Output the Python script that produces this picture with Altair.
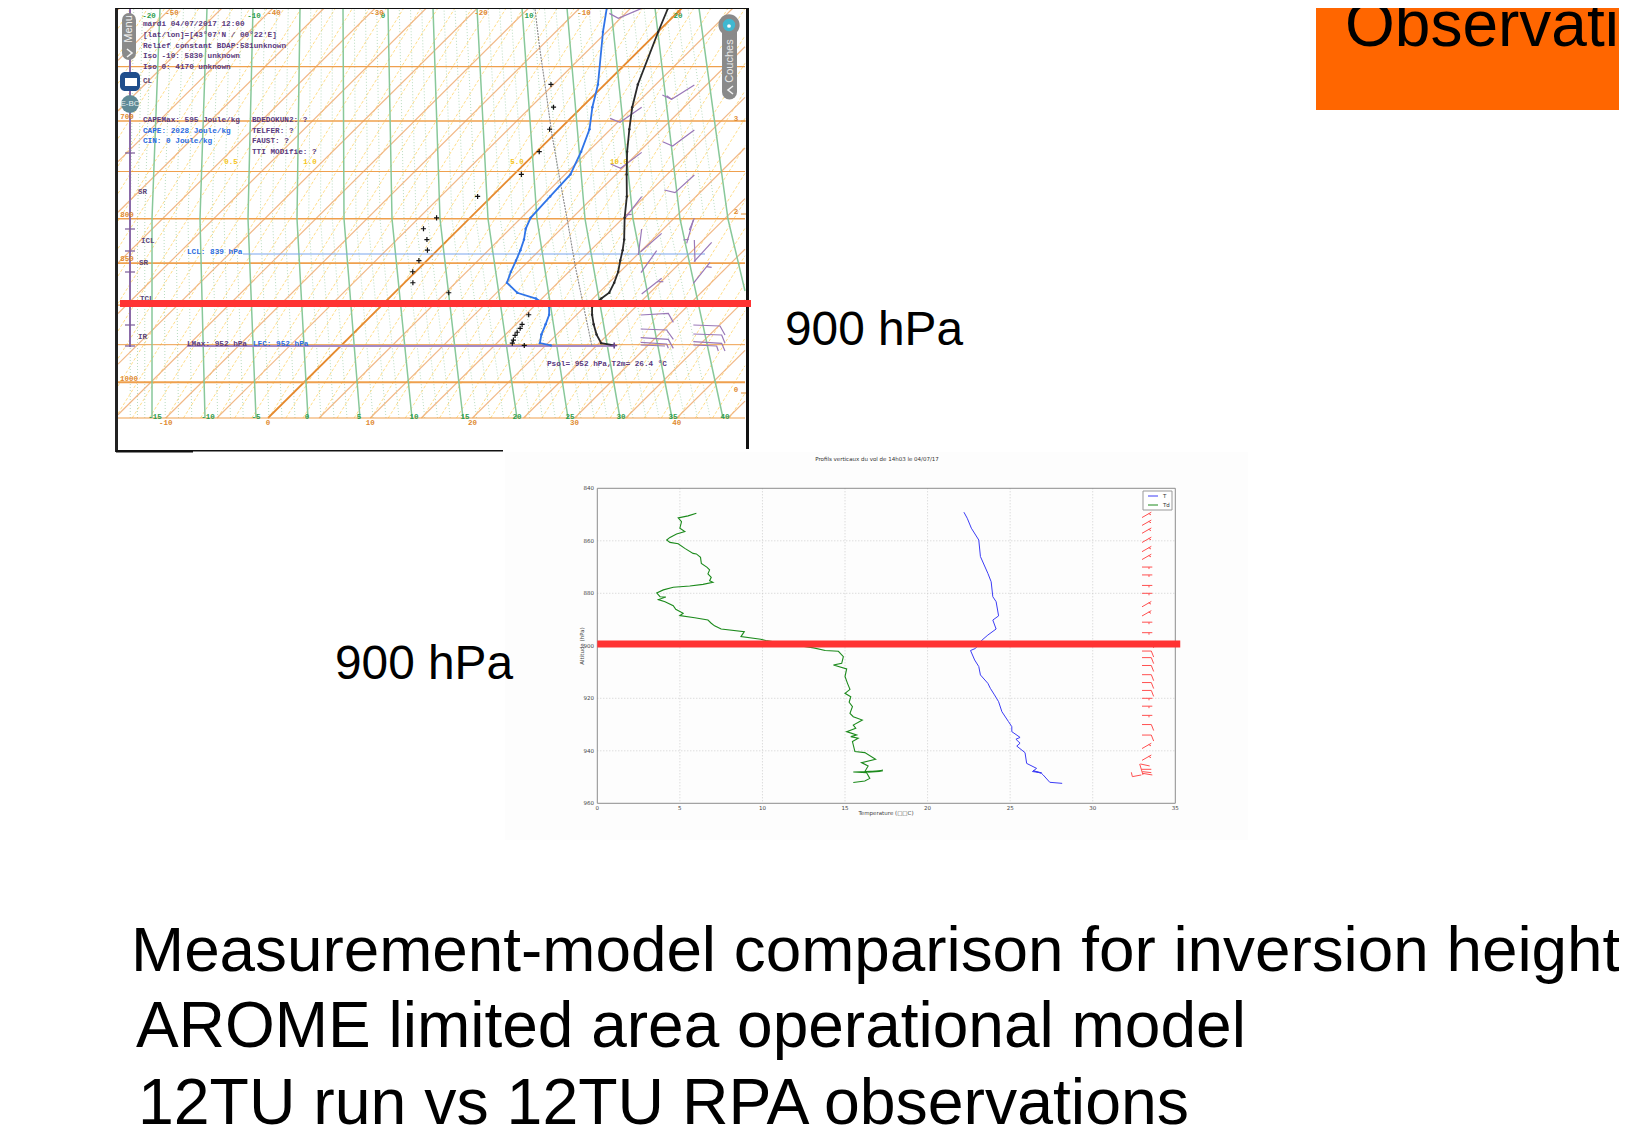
import math
import altair as alt
import pandas as pd

# ---------- lower panel: aircraft profile ----------
low_td_t = [6.0,5.5,4.9,5.1,5.0,5.3,4.8,4.4,4.2,4.4,4.9,5.3,5.8,6.0,6.25,6.3,6.65,6.8,6.7,6.9,6.8,7.0,6.4,5.6,4.6,4.0,3.6,3.8,4.15,3.7,4.1,4.6,4.75,5.2,5.0,5.9,6.7,6.9,7.1,7.5,8.9,8.7,9.9,10.2,13.1,13.8,14.6,14.9,14.8,14.3,15.1,15.0,15.15,15.3,15.0,15.35,15.25,15.45,15.3,15.5,16.05,15.5,15.65,15.1,15.7,15.35,15.8,15.45,15.6,16.2,16.85,16.0,16.4,16.2,17.3,16.3,17.3,16.4,17.3,16.3,17.2,16.3,17.3,15.5,16.3,16.5,16.2,15.5]
low_td_p = [849.5,850.5,851.3,852.7,855.2,856.5,857.4,858.7,859.7,860.6,861.1,862.9,864.8,865,866.3,868.6,870.1,871.1,872.6,873.9,875.2,875.8,876.6,877.2,877.7,878.7,879.9,881.3,881.4,882.4,883.2,884.7,886.1,887.6,888.5,889.3,890.2,891.4,892.4,893.6,894.6,896.5,897.5,898,900.8,901.8,902.1,904.1,906.7,907.3,908.8,911.7,914.3,916.6,918.1,919.4,921.5,923.2,925.7,927,928.3,930.2,931.4,932.7,934,934.6,935.2,936.5,940.3,940.7,943.2,944.5,945.8,947.9,947.6,948.1,947.4,948.2,947.8,948.0,947.5,948.1,947.7,948.1,948.3,950.5,951.5,952.1]
low_t_t = [22.2,22.4,22.65,23.1,23.2,23.65,23.85,23.95,24.15,24.3,23.95,24.15,23.65,23.3,22.9,22.6,22.85,23.1,23.2,23.65,23.8,24.05,24.3,24.5,24.9,25.1,25.1,25.6,25.35,25.6,25.4,25.9,26.0,26.6,26.35,26.9,26.4,26.9,27.0,27.4,28.15]
low_t_p = [849.1,851.4,855.2,859.7,866,872.4,875.6,881.3,883.2,888.6,890.2,893.6,895.9,897.8,901,901.8,905.4,907.9,911.1,914.3,916.2,918.7,921.3,925.1,928.9,930.8,932.7,934.9,935.6,937.1,938.2,940.7,944.8,946.7,947.9,948.4,947.6,948.6,949.2,952,952.4]
low_x_ticks = [0,5,10,15,20,25,30,35]
low_p_ticks = [840,860,880,900,920,940,960]
# wind barb rows: pressure, shape kind
barb_rows_p = [850,853,856,859.5,863,866,870,873,877,880,884,887.5,891,895,898.5,902,904.5,907.5,911,914,917,920,923,926.5,930,934,938,942.5]
barb_rows_k = list("ddddddhhhhddhhkkkkkkkhhhkkddd"[:28])

# ---------- upper panel: AROME sounding (skew-T) ----------
iso_p = [600,650,700,750,800,850,900,950,1000,1050]
iso_w = [1.0,1.2,1.6,1.2,1.6,1.8,1.2,1.0,2.2,1.2]
snd_p = [600,620,666,687,708,730,753,776,799,823,835,847,860,873,885,892,902,912,924,937,948,951]
snd_t = [-1.4,0,3.2,4.9,6.8,8.8,11,13.2,15.1,17.2,18.1,18.9,19.8,20.5,21,20.8,20.7,21.5,22.6,23.9,25.2,26.7]
dew_p = [600,620,666,687,708,730,753,776,799,811,823,835,847,860,873,885,892,902,912,924,937,948,951]
dew_t = [-7.4,-5.4,-0.7,1,2.9,4.3,5.5,5.7,5.9,6.5,7.4,8.1,8.7,9.3,10,12,14.4,16.5,17.3,17.9,18.5,19.2,20.5]
cross_p = [666,687,708,730,753,776,799,811,823,835,847,860,873,885,912,924,929,934,938,944,948,951]
cross_t = [-5.3,-2.8,-1,0.2,0.7,-1.4,-3.3,-3.5,-2.1,-1,-0.8,-0.3,0.8,5.3,15.3,15.6,15.8,15.9,16,16.3,16.5,17.9]
parcel_p = [601,633,674,711,755,806,854,893,952]
parcel_t = [-14.3,-10.1,-4.9,-0.5,4.6,10.2,15.1,19,24.6]
# green curves, horizontal position read at 1050, 800 and 600 hPa
green_a = [152,205,256,308,360,412,463,517,568,620,672,723]
green_b = [152,200,248,297,344,392,440,488,537,585,633,680]
green_c = [160,207,253,300,343,388,433,477,522,567,611,655]
green_low_labels = ["-15","-10","-5","0","5","10","15","20","25","30","35","40"]
t_labels = [-10,0,10,20,30,40]
isotherm_t = list(range(-60,50,5))
# purple wind barbs
z3 = [[(725,25),(655,55),(628,40)],[(883,255),(815,298),(787,285)],[(815,298),(800,287)],[(725,322),(660,367),(630,355)],
      [(883,390),(818,438),(788,425)],[(725,457),(662,505),(632,492)],[(883,525),(825,578),(793,570)],[(725,590),(675,655)],[(675,645),(695,643)],[(883,655),(868,690)]]
z4 = [[(725,27),(715,105)],[(785,40),(722,95)],[(770,92),(723,158)],[(880,0),(860,70)],[(850,60),(866,58)],[(883,60),(885,125)],[(935,67),(882,125)],[(930,127),(880,190)],[(920,140),(935,142)],
      [(785,175),(725,222)],[(775,185),(790,185)],[(722,285),(805,280),(820,307)],[(722,327),(800,330),(820,358)],[(722,353),(805,358),(820,385)],[(722,367),(800,372),(805,385)],[(722,375),(795,378)],
      [(880,315),(960,318),(975,345)],[(880,342),(965,345),(975,370)],[(880,365),(965,370),(975,393)],[(880,375),(950,378),(955,393)]]

# ---------- scales ----------
PX = 10.22
sk_x = alt.Scale(domain=[-15,47], range=[268-8-15*PX, 268-8+47*PX], zero=False, nice=False)
sk_y = alt.Scale(type='log', domain=[600,1050], range=[0,410], nice=False)
low_x = alt.Scale(domain=[0,35], range=[589.3,1167.3], zero=False, nice=False)
low_y = alt.Scale(domain=[840,960], range=[480.3,795.3], zero=False, nice=False)
KSK = 40.5
def sx_of(px): return (px-268)/PX
def p_of(y): return 1050*math.exp((y-418)/732.7)
def skew(t,p): return t + 72.46*math.log(1050/p)
def sk(px,y): return (sx_of(px), p_of(y))
def lo6(zx,zy): return (20+(zx-143)/49.6, 840+(zy-115)/7.875)

def poly_df(polys):
    rows=[]
    for g,pl in enumerate(polys):
        for i,(x,y) in enumerate(pl):
            rows.append({'x':x,'y':y,'g':g,'i':i})
    return pd.DataFrame(rows)

def lines(polys, xs, ys, color, width, dash=None, opacity=1.0, cap=None):
    kw=dict(color=color,strokeWidth=width,opacity=opacity)
    if dash: kw['strokeDash']=dash
    if cap: kw['strokeCap']=cap
    return alt.Chart(poly_df(polys)).mark_line(**kw).encode(
        x=alt.X('x:Q',scale=xs,axis=None), y=alt.Y('y:Q',scale=ys,axis=None),
        detail='g:N', order='i:Q')

def page_lines(polys,color,width,**k):
    polys=[[(x-8,y-8) for x,y in pl] for pl in polys]
    return lines(polys,None,None,color,width,**k)

def txt(rows,size,color,font='Liberation Sans',weight='normal',align='left',baseline='middle',angle=0):
    df=pd.DataFrame(rows,columns=['x','y','t'])
    df['x']-=8; df['y']-=8
    kw=dict(fontSize=size,color=color,font=font,fontWeight=weight,align=align,baseline=baseline)
    if angle: kw['angle']=angle
    return alt.Chart(df).mark_text(**kw).encode(
        x=alt.X('x:Q',scale=None,axis=None),y=alt.Y('y:Q',scale=None,axis=None),text='t:N')

def rect(x1,x2,y1,y2,color,**kw):
    df=pd.DataFrame([{'x':x1-8,'x2':x2-8,'y':y1-8,'y2':y2-8}])
    return alt.Chart(df).mark_rect(color=color,**kw).encode(
        x=alt.X('x:Q',scale=None,axis=None),x2='x2:Q',y=alt.Y('y:Q',scale=None,axis=None),y2='y2:Q')

def dots(px,py,color,size):
    df=pd.DataFrame({'x':[px-8],'y':[py-8]})
    return alt.Chart(df).mark_circle(color=color,size=size,opacity=1).encode(
        x=alt.X('x:Q',scale=None,axis=None),y=alt.Y('y:Q',scale=None,axis=None))

XMIN,XMAX=sx_of(118),sx_of(745)
L=[]
# lower panel pale background
L.append(rect(505,1248,452,840,'#FDFDFD'))
# --- skew-T background grid
def clip_line(t0,top):
    a=max(0,(XMIN-t0)/top); b=min(1,(XMAX-t0)/top)
    if a>=b: return None
    lnr=math.log(1.75)
    return [(t0+top*a,1050*math.exp(-a*lnr)),(t0+top*b,1050*math.exp(-b*lnr))]
yellow=[c for c in (clip_line(-40+k*1.67,24.9) for k in range(0,55)) if c]
L.append(lines(yellow,sk_x,sk_y,'#FFD774',1.0,dash=[3,2],opacity=0.85))
# dotted curves between the green ones
dot=[]
for j in range(len(green_a)-1):
    for f in (0.25,0.5,0.75):
        pts_=[]
        for arr,p in ((green_a,1050),(green_b,800),(green_c,600)):
            pts_.append((sx_of(arr[j]+f*(arr[j+1]-arr[j])),p))
        dot.append(pts_)
for f in (0.25,0.5,0.75):
    dot.append([(sx_of(123+f*29),1050),(sx_of(123+f*29),800),(sx_of(125+f*35),600)])
    dot.append([(sx_of(680+f*48),800),(sx_of(655+f*44),600)])
L.append(lines(dot,sk_x,sk_y,'#A8D4B0',0.9,dash=[1,2],opacity=0.9))
iso=[c for t in isotherm_t if t!=0 for c in [clip_line(t,KSK)] if c]
L.append(lines(iso,sk_x,sk_y,'#F0B07A',1.2,opacity=0.9))
L.append(lines([clip_line(0,KSK)],sk_x,sk_y,'#E68A2E',1.8))
for p,w in zip(iso_p[1:],iso_w[1:]):
    L.append(lines([[(XMIN,p),(XMAX,p)]],sk_x,sk_y,'#EFA04E',w))
greens=[[(sx_of(a),1050),(sx_of(b),800),(sx_of(c),600)] for a,b,c in zip(green_a,green_b,green_c)]
greens.append([sk(745,291),sk(728,219),sk(699,8)])
L.append(lines(greens,sk_x,sk_y,'#88C89A',1.5))
# purple level axis
L.append(page_lines([[(130,8),(130,347)]],'#8A6AA8',2))
L.append(page_lines([[(125,y),(135,y)] for y in (153,229,251,272,325,346)],'#7A5A98',1.2))
L.append(txt([(138,192,'SR'),(141,241,'ICL'),(139,263,'SR'),(140,299,'TCL'),(138,337,'IR'),(143,81,'CL')],7.5,'#5A4578','Liberation Mono','bold'))
# lcl / lmax lines
L.append(page_lines([[(243,254),(705,254)]],'#7AA6EE',1.2))
L.append(page_lines([[(187,346),(613,346)]],'#A58AC4',2))
# right ticks and labels
L.append(page_lines([[(741,y),(746,y)] for y in (121,214,393)],'#E8A050',1.2))
L.append(txt([(736,119,'3'),(736,212,'2'),(736,390,'0')],7.5,'#E08A30','Liberation Mono','bold',align='center'))
L.append(txt([(127,117,'700'),(127,215,'800'),(127,259,'850'),(129,379,'1000')],7.5,'#E08A30','Liberation Mono','bold',align='center'))
# t labels
tx=[(268+v*PX,423,str(v)) for v in t_labels]
L.append(txt(tx,7.5,'#E08A30','Liberation Mono','bold',align='center'))
L.append(txt([(g,417,s) for g,s in zip([155,208,256,307,359,414,465,517,570,621,673,725],green_low_labels)],7.5,'#2E9E4E','Liberation Mono','bold',align='center'))
L.append(txt([(149,16,'-20'),(254,16,'-10'),(383,16,'0'),(529,16,'10'),(678,16,'20')],7.5,'#2E9E4E','Liberation Mono','bold',align='center'))
L.append(txt([(172,13,'-50'),(274,13,'-40'),(377,13,'-30'),(481,13,'-20'),(584,13,'-10'),(679,13,'0')],7.5,'#E08A30','Liberation Mono','bold',align='center'))
L.append(txt([(231,162,'0.5'),(310,162,'1.0'),(517,162,'5.0'),(619,162,'10.0')],7.5,'#F5C518','Liberation Mono','bold',align='center'))
# info text
L.append(txt([(143,24,'mardi 04/07/2017 12:00'),(143,35,'[lat/lon]=[43°07\'N / 00°22\'E]'),(143,46,'Relief constant BDAP:581unknown'),
              (143,56,'Iso -10: 5830 unknown'),(143,67,'Iso 0: 4170 unknown'),(143,120,'CAPEMax: 595 Joule/kg'),
              (252,120,'BDEDOKUN2: ?'),(252,131,'TELFER: ?'),(252,141,'FAUST: ?'),(252,152,'TTI MODifie: ?'),
              (187,344,'LMax: 952 hPa'),(547,364,'Psol= 952 hPa,T2m= 26.4 °C')],7.7,'#5A3A80','Liberation Mono','bold'))
L.append(txt([(143,131,'CAPE: 2028 Joule/kg'),(143,141,'CIN: 0 Joule/kg'),(187,252,'LCL: 839 hPa'),(253,344,'LFC: 952 hPa')],7.7,'#2C6BE0','Liberation Mono','bold'))
# parcel curve
L.append(lines([[(skew(t,p),p) for t,p in zip(parcel_t,parcel_p)]],sk_x,sk_y,'#8A8A8A',1.1,dash=[2,1]))
# wind barbs
bar=[[sk(400+x/3,y/3) for x,y in pl] for pl in z3]+[[sk(400+x/3,220+y/3) for x,y in pl] for pl in z4]
L.append(lines(bar,sk_x,sk_y,'#9A78B8',1.2))
# sounding curves
L.append(lines([[(skew(t,p),p) for t,p in zip(dew_t,dew_p)]],sk_x,sk_y,'#2F74E8',1.8))
L.append(lines([[(skew(t,p),p) for t,p in zip(snd_t,snd_p)]],sk_x,sk_y,'#2A2A2A',1.8))
def pts(ts,ps,color,size):
    df=pd.DataFrame({'x':[skew(t,p) for t,p in zip(ts,ps)],'y':ps})
    return alt.Chart(df).mark_circle(color=color,size=size,opacity=1).encode(
        x=alt.X('x:Q',scale=sk_x,axis=None),y=alt.Y('y:Q',scale=sk_y,axis=None))
L.append(pts(dew_t,dew_p,'#2F74E8',6))
L.append(pts(snd_t,snd_p,'#2A2A2A',6))
plus='M-1,0L1,0M0,-1L0,1'
df=pd.DataFrame({'x':[skew(t,p) for t,p in zip(cross_t,cross_p)],'y':cross_p})
L.append(alt.Chart(df).mark_point(shape=plus,size=26,stroke='#111111',strokeWidth=1.2,opacity=1).encode(
    x=alt.X('x:Q',scale=sk_x,axis=None),y=alt.Y('y:Q',scale=sk_y,axis=None)))
df=pd.DataFrame({'x':[skew(26.7,951)],'y':[951]})
L.append(alt.Chart(df).mark_point(shape=plus,size=36,stroke='#6A4A90',strokeWidth=1.6,opacity=1).encode(
    x=alt.X('x:Q',scale=sk_x,axis=None),y=alt.Y('y:Q',scale=sk_y,axis=None)))
# UI widgets
L.append(page_lines([[(129,20),(129,53)]],'#8A8A8A',14,cap='round'))
L.append(txt([(129,29,'Menu')],11,'#F2F2F2',align='center',angle=270))
L.append(page_lines([[(127,49),(132,53),(127,57)]],'#F2F2F2',1.6))
L.append(rect(120,140,72,91,'#1F4E8C',cornerRadius=5))
L.append(rect(125,137,78,86,'#FFFFFF'))
L.append(dots(130,104,'#5F8A96',320))
L.append(txt([(130,104,'E-BC')],8,'#E8F0F0',align='center'))
L.append(page_lines([[(729.5,30),(729.5,92)]],'#8A8A8A',15,cap='round'))
L.append(dots(729,25,'#8A8A8A',452))
L.append(dots(729,25,'#3FB8D0',154))
L.append(dots(729,26,'#FFFFFF',14))
L.append(txt([(729.5,61,'Couches')],11,'#E8E8E8',align='center',angle=270))
L.append(page_lines([[(733,86),(728,90),(733,94)]],'#F2F2F2',1.6))
# frame
L.append(rect(115,118,8,452,'#222222'))
L.append(rect(746,749,8,449,'#111111'))
L.append(rect(116,193,450,452.5,'#111111'))
L.append(rect(193,503,450,451.5,'#111111'))
L.append(rect(116,747,8,9,'#111111'))
# skew-T red line
L.append(page_lines([[(120,303.5),(751,303.5)]],'#FF3333',7))
L.append(txt([(785,345,'900 hPa')],47.8,'#000000',baseline='alphabetic'))

# --- lower panel
grid_x=[[(v,840),(v,960)] for v in low_x_ticks[1:-1]]
grid_y=[[(0,v),(35,v)] for v in low_p_ticks[1:-1]]
L.append(lines(grid_x+grid_y,low_x,low_y,'#C4C4C4',0.8,dash=[1,2]))
frame=[[(0,840),(35,840),(35,960),(0,960),(0,840)]]
L.append(lines(frame,low_x,low_y,'#8C8C8C',1.0))
L.append(lines([list(zip(low_td_t,low_td_p))],low_x,low_y,'#1C8A1C',1.1))
L.append(lines([list(zip(low_t_t,low_t_p))],low_x,low_y,'#3C3CF5',1.0))
# red barbs
rb=[]
for p,k in zip(barb_rows_p,barb_rows_k):
    zy=115+(p-840)*7.875
    if k=='d':
        rb.append([lo6(787,zy+9),lo6(815,zy-7)]); rb.append([lo6(807,zy-3),lo6(814,zy+1)])
    elif k=='h':
        rb.append([lo6(787,zy),lo6(818,zy)]); rb.append([lo6(808,zy),lo6(808,zy+6)])
    else:
        rb.append([lo6(787,zy),lo6(815,zy),lo6(822,zy+18)])
rb+=[[lo6(780,942),lo6(790,975)],[lo6(782,942),lo6(810,948)],[lo6(755,967),lo6(758,980),lo6(785,975)],
     [lo6(785,958),lo6(815,958)],[lo6(788,965),lo6(815,968)],[lo6(788,970),lo6(818,975)]]
L.append(lines(rb,low_x,low_y,'#FF5050',1.0))
# tick labels
dfx=pd.DataFrame({'x':low_x_ticks,'t':[str(v) for v in low_x_ticks]})
L.append(alt.Chart(dfx).mark_text(fontSize=5.5,font='DejaVu Sans',color='#444444',baseline='middle').encode(
    x=alt.X('x:Q',scale=low_x,axis=None),y=alt.value(800),text='t:N'))
dfy=pd.DataFrame({'y':low_p_ticks,'t':[str(v) for v in low_p_ticks]})
L.append(alt.Chart(dfy).mark_text(fontSize=5.5,font='DejaVu Sans',color='#444444',align='right',baseline='middle').encode(
    y=alt.Y('y:Q',scale=low_y,axis=None),x=alt.value(586),text='t:N'))
L.append(txt([(877,459,'Profils verticaux du vol  de 14h03 le 04/07/17')],5.5,'#333333','DejaVu Sans',align='center'))
L.append(txt([(886,813,'Temperature (□□C)')],5.5,'#444444','DejaVu Sans',align='center'))
L.append(txt([(582,646,'Altitude (hPa)')],5.5,'#444444','DejaVu Sans',align='center',angle=270))
# legend
L.append(rect(1143,1172,491,510,'#FFFFFF',stroke='#999999',strokeWidth=1))
L.append(page_lines([[(1148,496),(1158,496)]],'#3C3CF5',1))
L.append(page_lines([[(1148,505),(1158,505)]],'#1C8A1C',1))
L.append(txt([(1163,496,'T'),(1163,505,'Td')],5.5,'#333333','DejaVu Sans'))
L.append(lines([[(0,899.3),(35.3,899.3)]],low_x,low_y,'#FF3333',7))
L.append(txt([(335,679,'900 hPa')],47.8,'#000000',baseline='alphabetic'))

# --- slide elements
L.append(rect(1316,1640,0,110,'#FF6600'))
L.append(txt([(1345,45.7,'Observations')],64,'#000000',baseline='alphabetic'))
L.append(txt([(131,971,'Measurement-model comparison for inversion height')],63.8,'#000000',baseline='alphabetic'))
L.append(txt([(136,1047,'AROME limited area operational model')],64,'#000000',baseline='alphabetic'))
L.append(txt([(138,1124,'12TU run vs 12TU RPA observations')],64.4,'#000000',baseline='alphabetic'))

chart = alt.layer(*L).resolve_scale(x='independent',y='independent').properties(
    width=1611,height=1123,padding=0,autosize=alt.AutoSizeParams(type='none'),background='white'
).configure_view(stroke=None)
chart.save("out.html", embed_options={"renderer": "svg", "actions": False})
